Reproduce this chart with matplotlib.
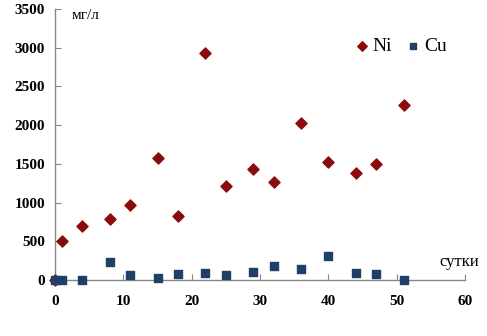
import matplotlib
matplotlib.use("Agg")
import matplotlib.pyplot as plt

days = [0, 1, 4, 8, 11, 15, 18, 22, 25, 29, 32, 36, 40, 44, 47, 51]
ni = [0, 500, 700, 790, 970, 1575, 825, 2935, 1215, 1435, 1265, 2030, 1525, 1375, 1500, 2255]
cu = [0, 0, 0, 230, 60, 20, 70, 95, 60, 100, 175, 140, 310, 90, 70, 0]
xticks = [0, 10, 20, 30, 40, 50, 60]
yticks = [0, 500, 1000, 1500, 2000, 2500, 3000, 3500]

plt.rcParams['font.family'] = ['Liberation Serif', 'DejaVu Serif']

fig = plt.figure(figsize=(4.87, 3.36), dpi=100)
ax = fig.add_axes([0.113, 0.167, 0.842, 0.806])

ax.scatter(days, ni, marker='D', s=32, color='#8B0A0A', label='Ni', zorder=3, clip_on=False)
ax.scatter(days, cu, marker='s', s=26, color='#1F3F66', label='Cu', zorder=3, clip_on=False)

ax.set_xlim(0, 60)
ax.set_ylim(0, 3500)
ax.set_xticks(xticks)
ax.set_yticks(yticks)
for s in ['top', 'right']:
    ax.spines[s].set_visible(False)
for s in ['left', 'bottom']:
    ax.spines[s].set_color('#888888')
    ax.spines[s].set_linewidth(1.0)
ax.tick_params(axis='both', direction='in', length=4, color='#888888', labelsize=11)
ax.tick_params(axis='x', pad=11)
ax.tick_params(axis='y', pad=7)
for lab in ax.get_xticklabels() + ax.get_yticklabels():
    lab.set_fontweight('bold')

ax.text(0.04, 1.0, 'мг/л', transform=ax.transAxes, fontsize=11, va='top', ha='left')
ax.text(1.035, 0.035, 'сутки', transform=ax.transAxes, fontsize=12, va='bottom', ha='right')

ax.legend(loc='upper left', bbox_to_anchor=(0.705, 0.925), ncol=2, frameon=False,
          fontsize=14, handletextpad=0.05, columnspacing=0.6, handlelength=1.0,
          borderaxespad=0, markerscale=0.85)

fig.savefig('out.png', dpi=100)
